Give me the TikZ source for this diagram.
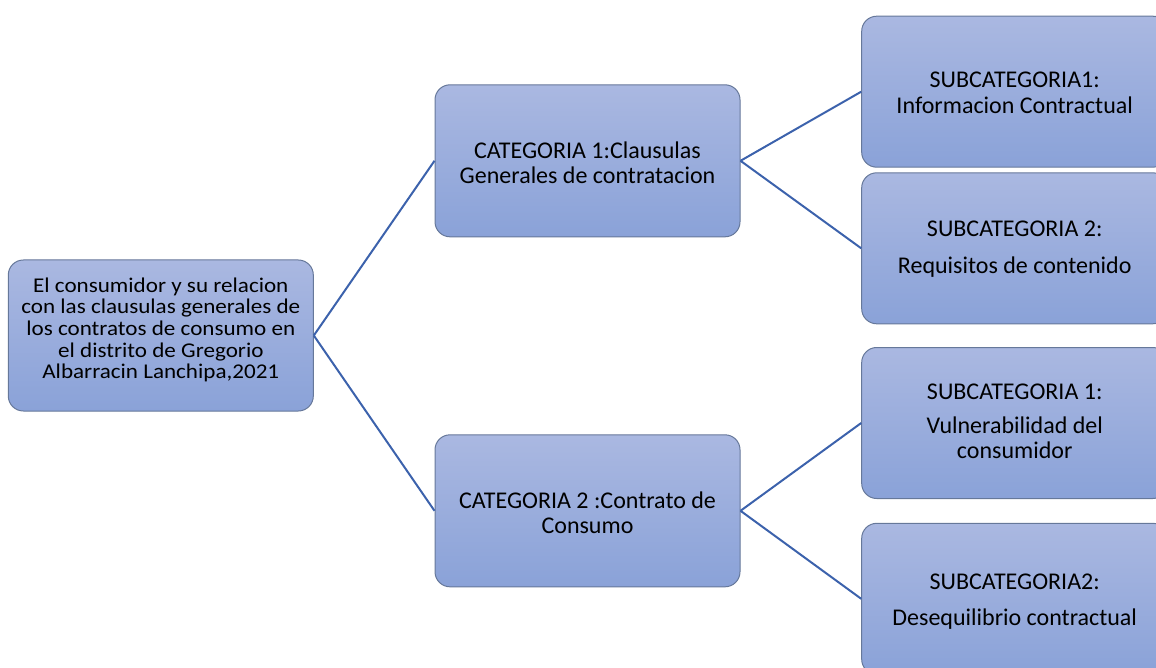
\documentclass[tikz,border=0pt]{standalone}
\usepackage{fontspec}
\setmainfont{Carlito}
\definecolor{boxtop}{HTML}{AAB8E1}
\definecolor{boxbot}{HTML}{8AA2D8}
\definecolor{boxline}{HTML}{66789A}
\definecolor{linkblue}{HTML}{3C62AC}
\newcommand\btext[4][24]{\raisebox{#2}[0pt][0pt]{\fontsize{#1}{#3}\selectfont\lineskiplimit=-100pt\relax\vtop{\halign{\hfil##\hfil\cr#4\crcr}}}}
\tikzset{
  box/.style={draw=boxline, line width=1pt, rounded corners=15pt, top color=boxtop, bottom color=boxbot,
    minimum width=305pt, minimum height=151pt, inner sep=0pt},
  link/.style={draw=linkblue, line width=2pt}
}
\begin{document}
\begin{tikzpicture}[x=1pt,y=1pt]
\useasboundingbox (0,0) rectangle (1156,-668);
\clip (0,0) rectangle (1156,-668);
\node[box] (root) at (160.8,-335.5) {\scalebox{1.1}[1]{\btext[21]{43.3pt}{21.67pt}{El consumidor y su relacion\cr con las clausulas generales de\cr los contratos de consumo en\cr el distrito de Gregorio\cr Albarracin Lanchipa,2021}}};
\node[box, minimum height=152pt] (cat1) at (587.5,-160.8) {\btext{2.5pt}{25pt}{CATEGORIA 1:Clausulas\cr Generales de contratacion}};
\node[box, minimum height=152pt] (cat2) at (587.5,-510.8) {\btext{2.5pt}{25pt}{CATEGORIA 2 :Contrato de\cr Consumo}};
\node[box, minimum width=306pt] (sub1) at (1014.7,-91.7) {\btext{4.4pt}{26pt}{SUBCATEGORIA1:\cr Informacion Contractual}};
\node[box, minimum width=306pt] (sub2) at (1014.7,-248.3) {\btext{11.6pt}{25pt}{SUBCATEGORIA 2:\cr\noalign{\vskip 11.6pt}Requisitos de contenido}};
\node[box, minimum width=306pt] (sub3) at (1014.7,-423) {\btext{23.7pt}{25pt}{SUBCATEGORIA 1:\cr\noalign{\vskip 9pt}Vulnerabilidad del\cr consumidor}};
\node[box, minimum width=306pt] (sub4) at (1014.7,-598.8) {\btext{9.5pt}{25pt}{SUBCATEGORIA2:\cr\noalign{\vskip 10.7pt}Desequilibrio contractual}};
\draw[link] (root.east) -- (cat1.west);
\draw[link] (root.east) -- (cat2.west);
\draw[link] (cat1.east) -- (sub1.west);
\draw[link] (cat1.east) -- (sub2.west);
\draw[link] (cat2.east) -- (sub3.west);
\draw[link] (cat2.east) -- (sub4.west);
\end{tikzpicture}
\end{document}
